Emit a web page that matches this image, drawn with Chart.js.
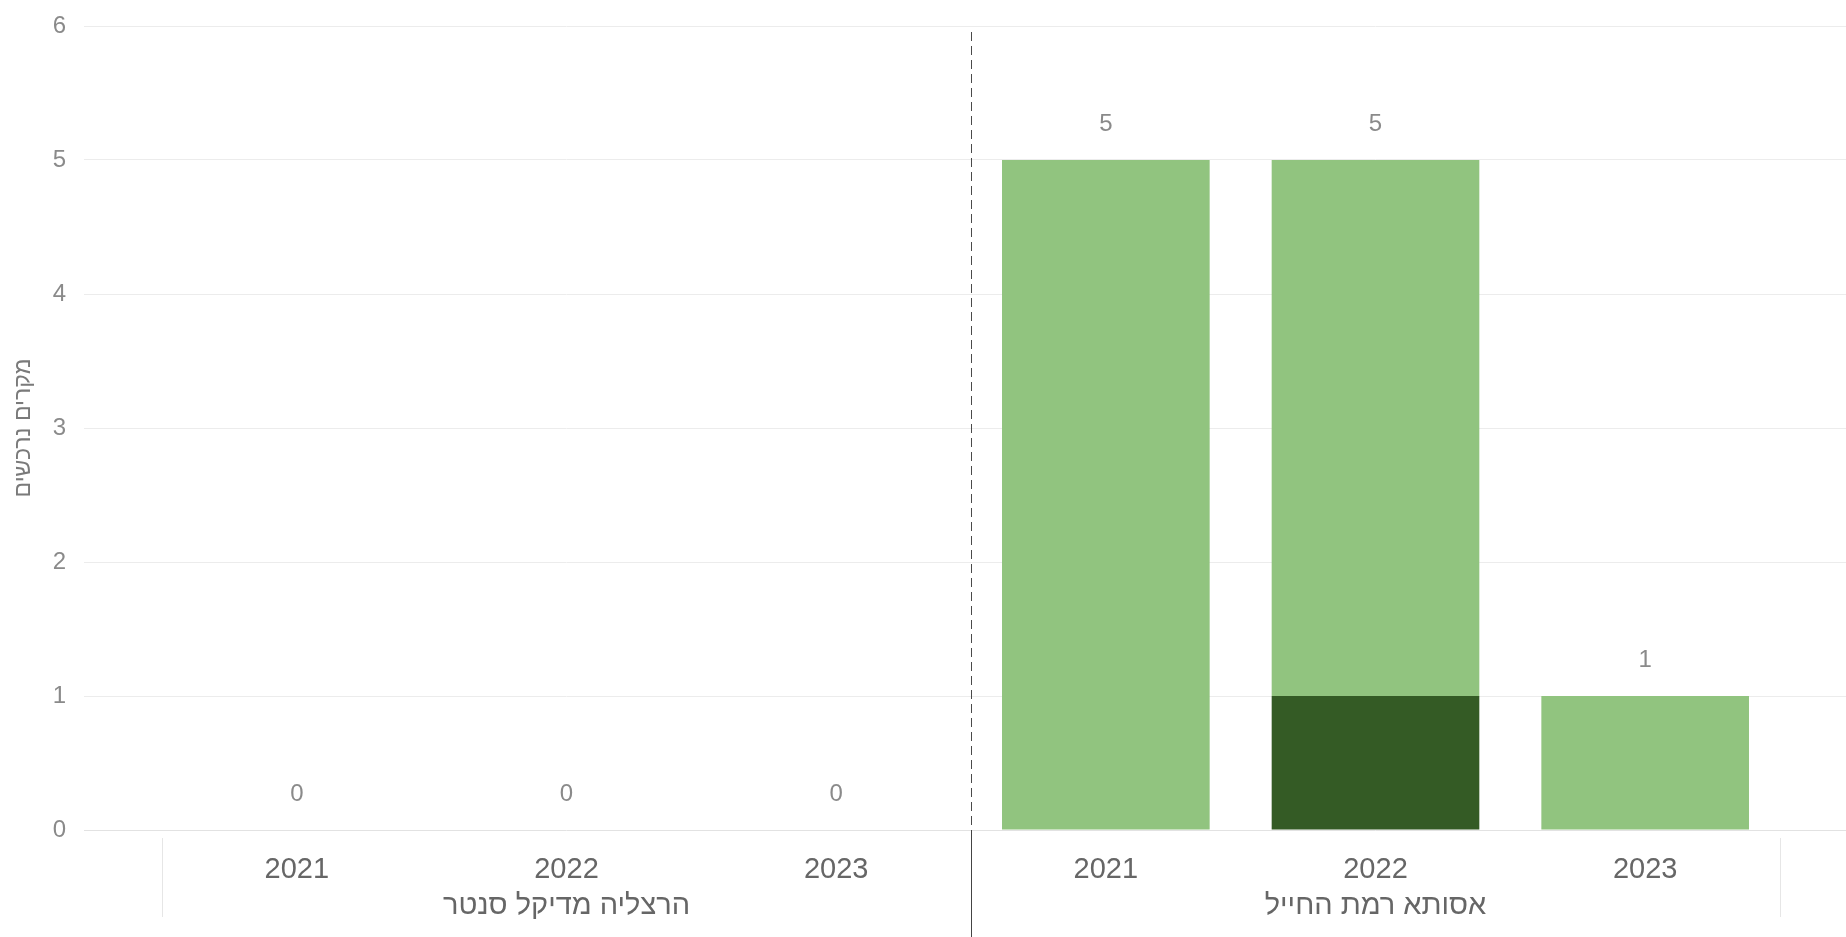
<!DOCTYPE html>
<html lang="he">
<head>
<meta charset="utf-8">
<title>מקרים נרכשים</title>
<script src="https://cdn.jsdelivr.net/npm/chart.js@4/dist/chart.umd.min.js"></script>
<style>
    html, body {
        margin: 0;
        padding: 0;
        background: #ffffff;
    }
    .chart-box {
        width: 1846px;
        height: 937px;
        position: relative;
    }
</style>
</head>
<body>
<div class="chart-box">
    <canvas id="casesChart"></canvas>
</div>
<script>
// chart data
const hospitals = ['הרצליה מדיקל סנטר', 'אסותא רמת החייל'];
const years = ['2021', '2022', '2023'];
const darkValues = [0, 0, 0, 0, 1, 0];
const lightValues = [0, 0, 0, 5, 4, 1];
const yTicks = [0, 1, 2, 3, 4, 5, 6];
const yTitle = 'מקרים נרכשים';

const fontFamily = "'Segoe UI', 'Liberation Sans', Arial, sans-serif";

// one label per bar; the middle year of each hospital carries the hospital name on a 2nd line
const xLabels = [];
hospitals.forEach(name => {
    years.forEach((year, i) => {
        xLabels.push(i === 1 ? [year, name] : [year]);
    });
});

// totals above each stack
const totalsPlugin = {
    id: 'stackTotals',
    afterDatasetsDraw(chart) {
        const ctx = chart.ctx;
        const yScale = chart.scales.y;
        const meta = chart.getDatasetMeta(chart.data.datasets.length - 1);
        ctx.save();
        ctx.font = `24px ${fontFamily}`;
        ctx.fillStyle = '#8a8a8a';
        ctx.textAlign = 'center';
        ctx.textBaseline = 'middle';
        xLabels.forEach((_, i) => {
            const total = chart.data.datasets.reduce((sum, ds) => sum + ds.data[i], 0);
            const x = meta.data[i].x;
            const y = yScale.getPixelForValue(total) - 36;
            ctx.fillText(String(total), x, y);
        });
        ctx.restore();
    }
};

// separators between hospitals and at the ends of the category axis
const dividerPlugin = {
    id: 'groupDividers',
    afterDraw(chart) {
        const ctx = chart.ctx;
        const xScale = chart.scales.x;
        const area = chart.chartArea;
        const mid = (xScale.getPixelForValue(2) + xScale.getPixelForValue(3)) / 2;
        ctx.save();
        ctx.lineWidth = 1;

        ctx.strokeStyle = '#4a4a4a';
        ctx.setLineDash([9, 5]);
        ctx.beginPath();
        ctx.moveTo(Math.round(mid) + 0.5, area.top + 6);
        ctx.lineTo(Math.round(mid) + 0.5, area.bottom);
        ctx.stroke();

        ctx.setLineDash([]);
        ctx.strokeStyle = '#444444';
        ctx.beginPath();
        ctx.moveTo(Math.round(mid) + 0.5, area.bottom);
        ctx.lineTo(Math.round(mid) + 0.5, chart.height);
        ctx.stroke();

        ctx.strokeStyle = '#e6e6e6';
        [xScale.left, xScale.right].forEach(x => {
            ctx.beginPath();
            ctx.moveTo(Math.round(x) + 0.5, area.bottom + 8);
            ctx.lineTo(Math.round(x) + 0.5, chart.height - 20);
            ctx.stroke();
        });
        ctx.restore();
    }
};

function initializeChart() {
    new Chart(document.getElementById('casesChart'), {
        type: 'bar',
        data: {
            labels: xLabels,
            datasets: [{
                label: 'dark',
                data: darkValues,
                backgroundColor: '#345b25',
                categoryPercentage: 1,
                barPercentage: 0.77
            }, {
                label: 'light',
                data: lightValues,
                backgroundColor: '#91c47f',
                categoryPercentage: 1,
                barPercentage: 0.77
            }]
        },
        options: {
            responsive: true,
            maintainAspectRatio: false,
            animation: false,
            layout: {
                padding: { top: 26, left: 0, right: 0, bottom: 0 }
            },
            plugins: {
                legend: { display: false },
                tooltip: { enabled: false }
            },
            scales: {
                x: {
                    stacked: true,
                    border: { display: false },
                    grid: { display: false },
                    ticks: {
                        autoSkip: false,
                        maxRotation: 0,
                        padding: 14,
                        color: '#666666',
                        font: { family: fontFamily, size: 29, lineHeight: 1.24 }
                    },
                    afterFit(scale) {
                        scale.height = 107;
                    }
                },
                y: {
                    stacked: true,
                    min: 0,
                    max: 6,
                    border: { display: false },
                    grid: {
                        color: ctx => ctx.tick && ctx.tick.value === 0 ? '#e2e2e2' : '#ececec',
                        drawTicks: true,
                        tickLength: 78
                    },
                    ticks: {
                        stepSize: 1,
                        padding: 18,
                        color: '#8a8a8a',
                        font: { family: fontFamily, size: 24 },
                        callback: (value) => yTicks.includes(value) ? String(value) : ''
                    },
                    title: {
                        display: true,
                        text: yTitle,
                        color: '#7a7a7a',
                        padding: { top: 10, bottom: 0 },
                        font: { family: fontFamily, size: 23 }
                    },
                    afterFit(scale) {
                        scale.width = 162;
                        scale.paddingTop = 0;
                    }
                },
                y2: {
                    position: 'right',
                    min: 0,
                    max: 6,
                    border: { display: false },
                    grid: {
                        color: ctx => ctx.tick && ctx.tick.value === 0 ? '#e2e2e2' : '#ececec',
                        drawOnChartArea: false,
                        drawTicks: true,
                        tickLength: 66
                    },
                    ticks: {
                        stepSize: 1,
                        display: false
                    },
                    afterFit(scale) {
                        scale.width = 66;
                    }
                }
            }
        },
        plugins: [totalsPlugin, dividerPlugin]
    });
}

document.addEventListener('DOMContentLoaded', () => {
    initializeChart();
});
</script>
</body>
</html>
